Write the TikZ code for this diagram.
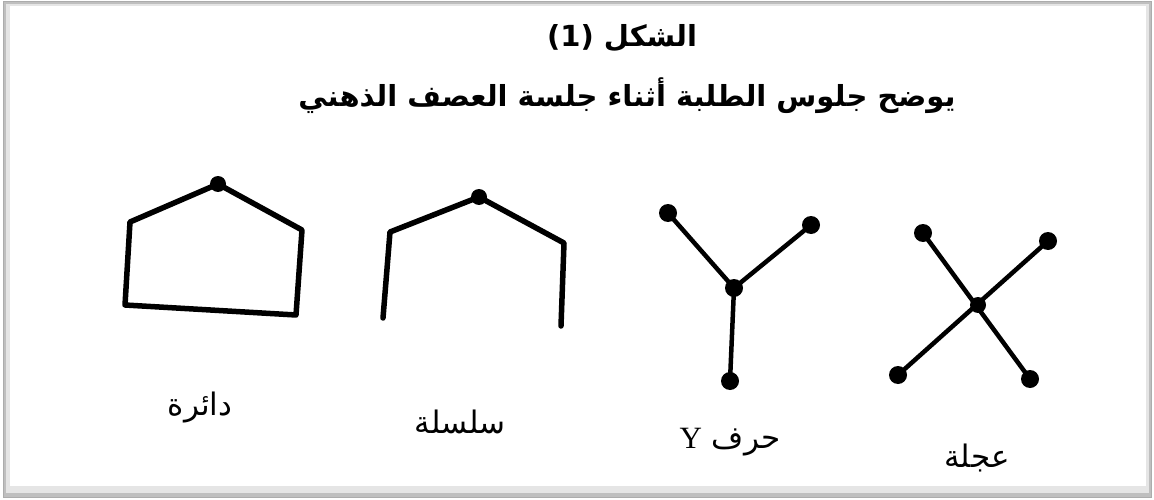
\documentclass[tikz,border=0pt]{standalone}
\usepackage{fontspec}
\newfontfamily\arabicfont[Script=Arabic]{DejaVu Sans}
\newfontfamily\arabicbold[Script=Arabic]{DejaVu Sans Bold}
\TeXXeTstate=1
\begin{document}
\begin{tikzpicture}[x=1pt,y=-1pt,
  stroke/.style={line width=5.5pt,line join=round,line cap=round},
  spoke/.style={line width=4.5pt,line cap=round},
  dot/.style={circle,fill=black,inner sep=0pt,minimum size=18pt},
  smalldot/.style={circle,fill=black,inner sep=0pt,minimum size=16pt},
  lbl/.style={font=\arabicfont\fontsize{31}{36}\selectfont},
  ttl/.style={font=\arabicbold\fontsize{29}{34}\selectfont}]
\useasboundingbox (0,0) rectangle (1154,500);
% frame
\fill[gray!50] (3,2) rectangle (1151,497);
\fill[gray!20] (6,4) rectangle (1149,493);
\fill[white] (10,6) rectangle (1146,486);
\draw[gray!65,line width=1pt] (3,2) rectangle (1151,497);
% title
\node[ttl] (t1) at (622,38) {\beginR الشكل (1)\endR};
\node[ttl] (t2) at (627,96) {\beginR يوضح جلوس الطلبة أثناء جلسة العصف الذهني\endR};
% circle shape
\node[smalldot] (a0) at (218,184) {};
\coordinate (a1) at (130,222);
\coordinate (a2) at (125,305);
\coordinate (a3) at (296,315);
\coordinate (a4) at (302,230);
\draw[stroke] (a0.center) -- (a1) -- (a2) -- (a3) -- (a4) -- cycle;
% chain shape
\node[smalldot] (b0) at (479,197) {};
\coordinate (b1) at (390,232);
\coordinate (b2) at (383,318);
\coordinate (b3) at (564,243);
\coordinate (b4) at (561,326);
\draw[stroke] (b2) -- (b1) -- (b0.center) -- (b3) -- (b4);
% Y shape
\node[dot] (y0) at (734,288) {};
\node[dot] (y1) at (668,213) {};
\node[dot] (y2) at (811,225) {};
\node[dot] (y3) at (730,381) {};
\draw[spoke] (y0.center) -- (y1.center);
\draw[spoke] (y0.center) -- (y2.center);
\draw[spoke] (y0.center) -- (y3.center);
% wheel shape
\node[smalldot] (w0) at (978,305) {};
\node[dot] (w1) at (923,233) {};
\node[dot] (w2) at (1048,241) {};
\node[dot] (w3) at (898,375) {};
\node[dot] (w4) at (1030,379) {};
\draw[spoke] (w1.center) -- (w4.center);
\draw[spoke] (w2.center) -- (w3.center);
% labels
\node[lbl] (l1) at (200,408) {\beginR دائرة\endR};
\node[lbl] (l2) at (460,422) {\beginR سلسلة\endR};
\node[lbl] (l3) at (730,442) {\beginR حرف \beginL{\fontspec{Liberation Serif}Y}\endL\endR};
\node[lbl] (l4) at (977,458) {\beginR عجلة\endR};
\end{tikzpicture}
\end{document}
